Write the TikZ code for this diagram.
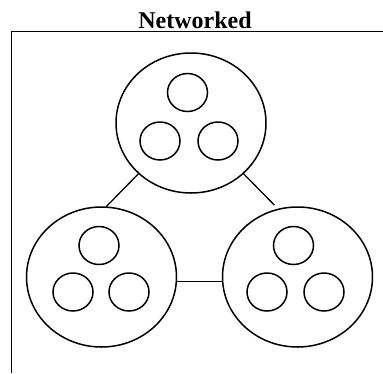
\documentclass[tikz,border=0pt]{standalone}
\usepackage{fontspec}
\setmainfont{Liberation Serif}
\usetikzlibrary{shapes.geometric, positioning}

\tikzset{
  cluster/.style={draw, ellipse, line width=1.5pt, inner sep=0pt, minimum width=150pt, minimum height=140pt},
  member/.style={draw, ellipse, line width=1.5pt, inner sep=0pt, minimum width=40pt, minimum height=38pt},
  link/.style={line width=1.3pt}
}

\begin{document}
\begin{tikzpicture}[x=1pt, y=-1pt]
        \useasboundingbox (0,0) rectangle (383,373);
        % Frame
        \draw[line width=1.5pt] (11.5,373) -- (11.5,31.5) -- (383,31.5);
        \node[font=\bfseries\fontsize{24}{27}\selectfont, anchor=base] (title) at (195,28) {Networked};
        % Clusters
        \node[cluster] (top) at (191,123) {};
        \node[cluster] (left) at (101.5,277) {};
        \node[cluster] (right) at (297.5,277) {};
        % Members of each cluster
        \node[member] (top1) at (187.5,92.5) {};
        \node[member] (top2) at (160,141) {};
        \node[member] (top3) at (218,141) {};
        \node[member] (left1) at (99,245.5) {};
        \node[member] (left2) at (73,292) {};
        \node[member] (left3) at (129,292) {};
        \node[member] (right1) at (293.5,245.5) {};
        \node[member] (right2) at (267,292) {};
        \node[member] (right3) at (324,292) {};
        % Links
        \draw[link] (top.224) -- (left.86);
        \draw[link, shorten >=5pt] (top.316) -- (right.106);
        \draw[link, line width=0.9pt] (left.-3) -- (right.183);
    \end{tikzpicture}
\end{document}
